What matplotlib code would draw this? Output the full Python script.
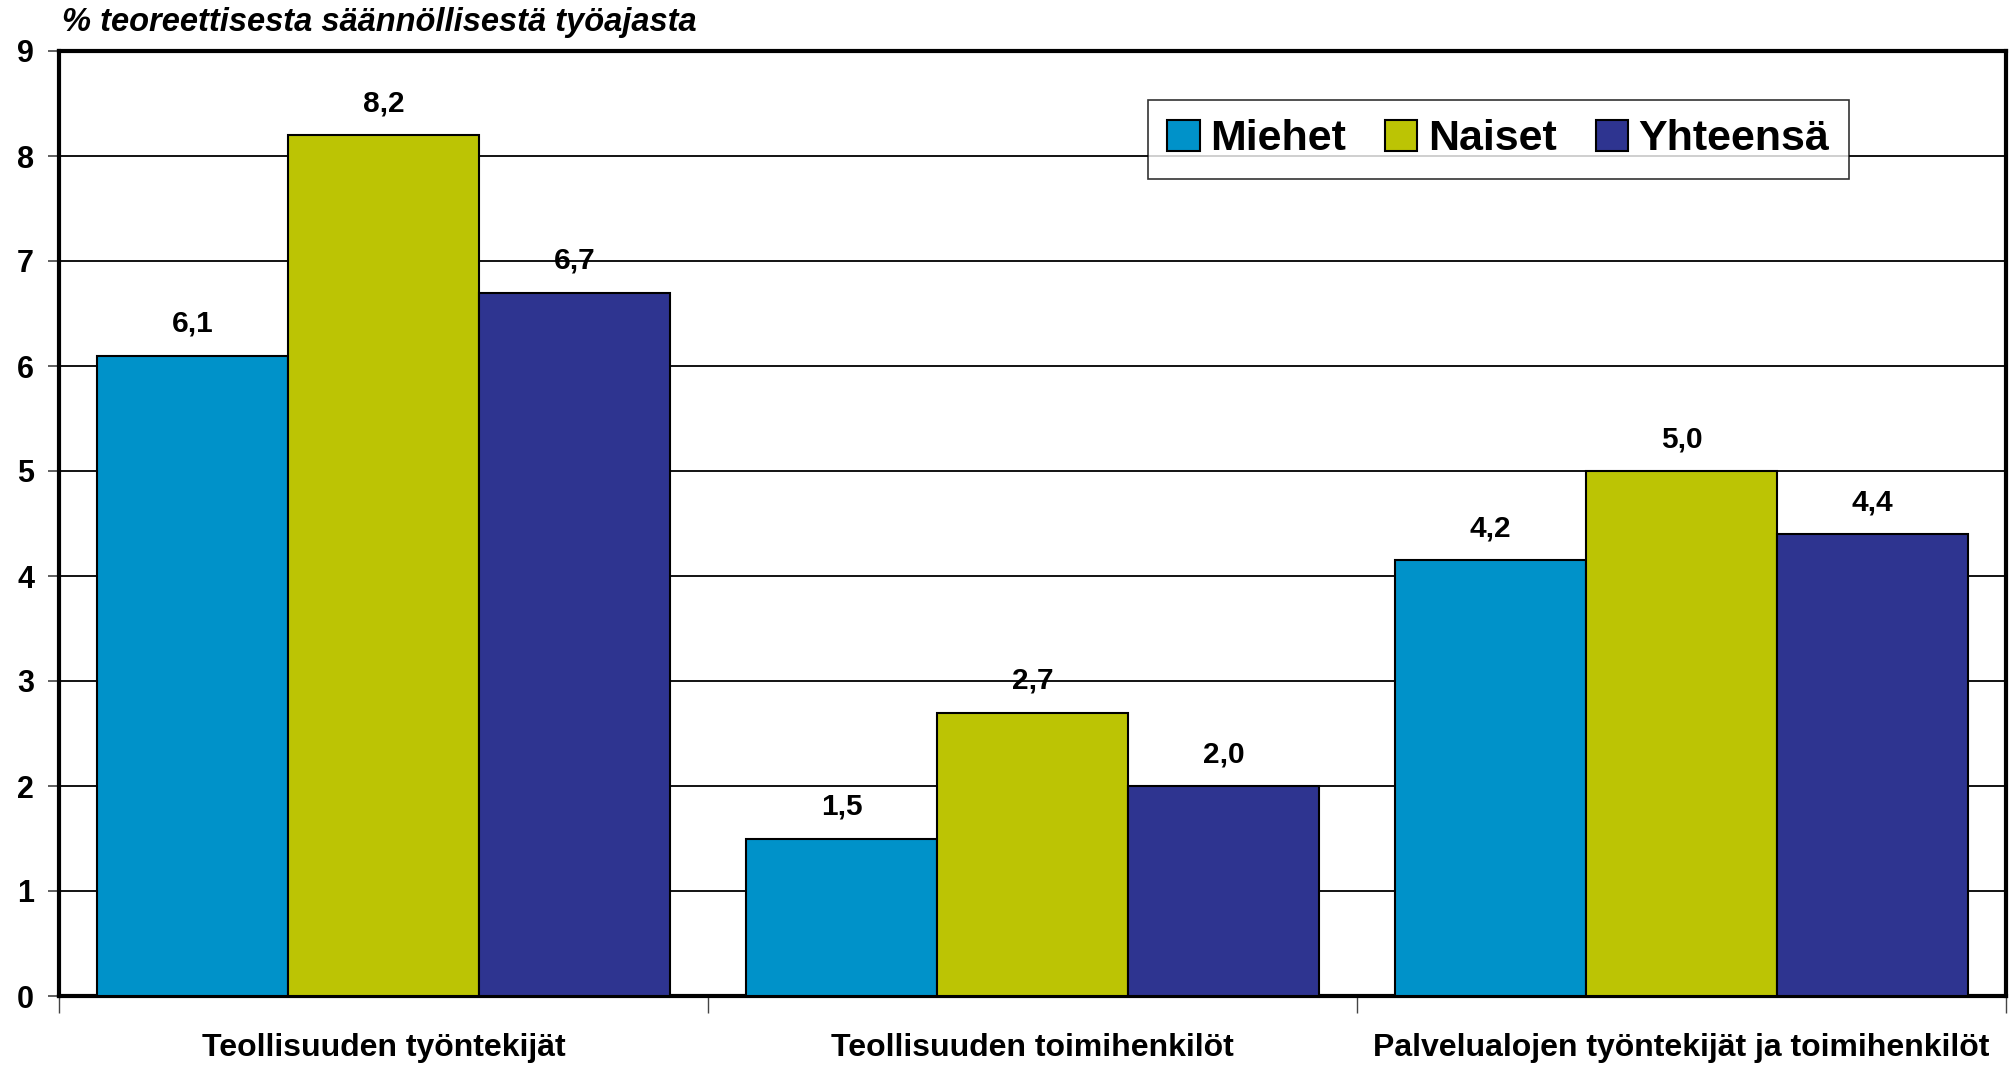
import matplotlib
matplotlib.use("Agg")
import matplotlib.pyplot as plt
import numpy as np

categories = ["Teollisuuden työntekijät", "Teollisuuden toimihenkilöt",
              "Palvelualojen työntekijät ja toimihenkilöt"]
series_names = ["Miehet", "Naiset", "Yhteensä"]
miehet = [6.1, 1.5, 4.15]
naiset = [8.2, 2.7, 5.0]
yhteensa = [6.7, 2.0, 4.4]
labels_miehet = ["6,1", "1,5", "4,2"]
labels_naiset = ["8,2", "2,7", "5,0"]
labels_yhteensa = ["6,7", "2,0", "4,4"]
colors = ["#0092C9", "#BCC404", "#2E3490"]
yticks = list(range(0, 10))

plt.rcParams['font.family'] = ['Liberation Sans', 'DejaVu Sans']
plt.rcParams['font.weight'] = 'bold'

fig = plt.figure(figsize=(20.16, 10.67), dpi=100)
ax = fig.add_axes([59/2016, 1 - 996/1067, (2006-59)/2016, (996-51)/1067])

x = np.arange(len(categories))
bw = 1/3.4
allvals = [miehet, naiset, yhteensa]
alllabels = [labels_miehet, labels_naiset, labels_yhteensa]
for i, (vals, labs, c, name) in enumerate(zip(allvals, alllabels, colors, series_names)):
    pos = x + (i - 1) * bw
    ax.bar(pos, vals, width=bw, color=c, edgecolor='black', linewidth=1.5, label=name, zorder=3)
    for p, v, l in zip(pos, vals, labs):
        ax.text(p, v + 0.17, l, ha='center', va='bottom', fontsize=21.5, fontweight='bold')

ax.set_xlim(-0.5, 2.5)
ax.set_ylim(0, 9)
ax.set_yticks(yticks)
ax.set_yticklabels([str(t) for t in yticks], fontsize=22, fontweight='bold')
ax.yaxis.grid(True, color='black', linewidth=1.3, zorder=0)
ax.set_axisbelow(True)
ax.set_xticks([-0.5, 0.5, 1.5, 2.5])
ax.set_xticklabels([])
ax.tick_params(axis='x', direction='out', length=12, width=1, color='#444444')
ax.tick_params(axis='y', direction='out', length=8, width=1.2, color='#444444', pad=10)
for p, cat in zip(x, categories):
    ax.text(p, -0.35, cat, ha='center', va='top', fontsize=23, fontweight='bold',
            transform=ax.transData)
for s in ax.spines.values():
    s.set_linewidth(3)
    s.set_color('black')

ax.text(-0.5 + 0.005, 9.12, "% teoreettisesta säännöllisestä työajasta", ha='left', va='bottom',
        fontsize=23.5, fontweight='bold', fontstyle='italic')

leg = ax.legend(loc='upper left', bbox_to_anchor=((1148-59)/(2006-59), 1 - (100-51)/(996-51)),
                borderaxespad=0,
                ncol=3, frameon=True, fancybox=False, edgecolor='black',
                handlelength=0.75, handleheight=0.75, handletextpad=0.25, columnspacing=0.9,
                borderpad=0.45, prop={'weight': 'bold', 'size': 31})
leg.get_frame().set_linewidth(1.2)
leg.set_zorder(5)

fig.savefig("out.png", dpi=100, facecolor='white')
